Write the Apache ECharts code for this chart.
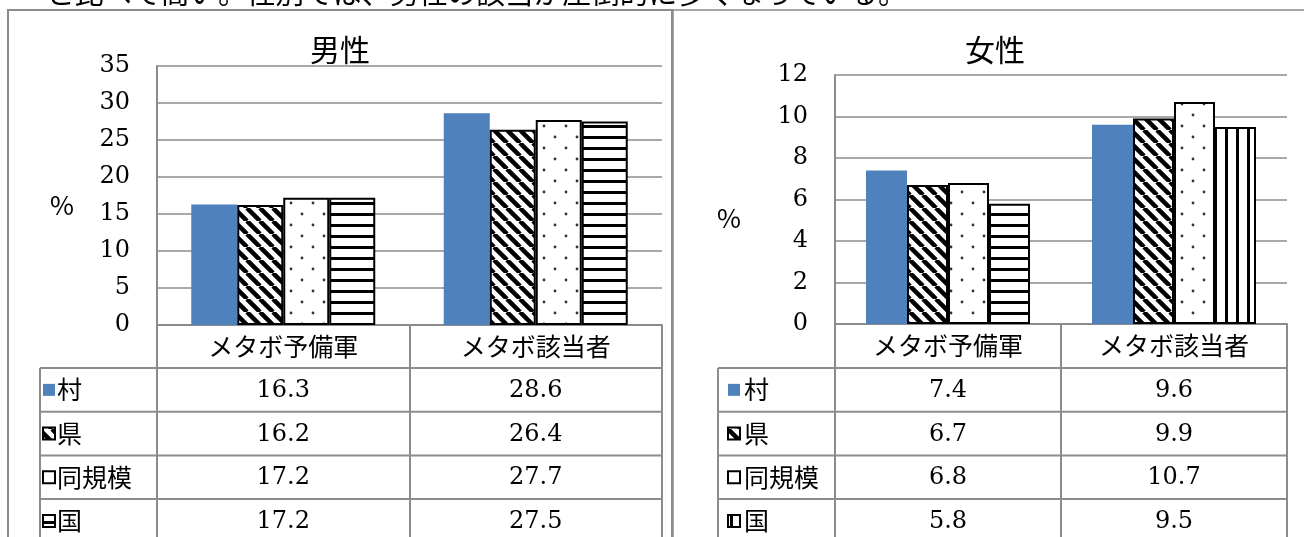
<!DOCTYPE html>
<html><head><meta charset="utf-8">
<script src="https://cdn.jsdelivr.net/npm/echarts@6/dist/echarts.min.js"></script>
<style>html,body{margin:0;padding:0;background:#fff;}#c{width:1304px;height:537px;}</style>
</head><body><div id="c"></div>
<script>
// ---- data ----
const categories = ['メタボ予備軍', 'メタボ該当者'];
const seriesNames = ['村', '県', '同規模', '国'];
const maleVillage  = [16.3, 28.6];
const malePref     = [16.2, 26.4];
const maleSimilar  = [17.2, 27.7];
const maleNation   = [17.2, 27.5];
const femaleVillage = [7.4, 9.6];
const femalePref    = [6.7, 9.9];
const femaleSimilar = [6.8, 10.7];
const femaleNation  = [5.8, 9.5];
const maleAxis = { min: 0, max: 35, interval: 5 };
const femaleAxis = { min: 0, max: 12, interval: 2 };
const titles = ['男性', '女性'];
const topText = 'と比べて高い。性別では、男性の該当が圧倒的に多くなっている。';

// ---- patterns ----
function tile(w, h, draw) {
  const c = document.createElement('canvas'); c.width = w; c.height = h;
  const g = c.getContext('2d'); g.fillStyle = '#fff'; g.fillRect(0, 0, w, h);
  draw(g, w, h); return { image: c, repeat: 'repeat' };
}
const diagPat = tile(13, 13, (g, w) => {
  g.strokeStyle = '#000'; g.lineWidth = 4.5; g.beginPath();
  for (const k of [-1, 0, 1]) { g.moveTo(k * w, 0); g.lineTo(k * w + w, w); }
  g.stroke();
});
const dotPat = tile(22, 22, (g) => {
  g.fillStyle = '#333';
  g.beginPath(); g.arc(5, 5, 1.4, 0, Math.PI * 2); g.fill();
  g.beginPath(); g.arc(16, 16, 1.4, 0, Math.PI * 2); g.fill();
});
const hPat = tile(4, 11, (g) => { g.fillStyle = '#000'; g.fillRect(0, 4, 4, 3); });
const vPat = tile(11, 4, (g) => { g.fillStyle = '#000'; g.fillRect(4, 0, 3, 4); });
const BLUE = '#4F81BD';
const GRAY = '#8c8c8c';

const maleStyles = [
  { color: BLUE },
  { color: diagPat, borderColor: '#000', borderWidth: 2 },
  { color: dotPat, borderColor: '#000', borderWidth: 2 },
  { color: hPat, borderColor: '#000', borderWidth: 2 }
];
const femaleStyles = [
  { color: BLUE },
  { color: diagPat, borderColor: '#000', borderWidth: 2 },
  { color: dotPat, borderColor: '#000', borderWidth: 2 },
  { color: vPat, borderColor: '#000', borderWidth: 2 }
];
const maleData = [maleVillage, malePref, maleSimilar, maleNation];
const femaleData = [femaleVillage, femalePref, femaleSimilar,
  femaleNation.map((v, i) => i === 0 ? { value: v, itemStyle: { color: hPat } } : v)];
const femaleRaw = [femaleVillage, femalePref, femaleSimilar, femaleNation];

const JP = '"Noto Sans CJK JP"';
const NUM = '"DejaVu Serif"';

function xAxis(gi) {
  return {
    type: 'category', gridIndex: gi, data: categories,
    axisLine: { show: true, lineStyle: { color: GRAY, width: 2 } },
    axisTick: { show: true, length: 240, lineStyle: { color: GRAY, width: 2 } },
    axisLabel: { margin: 0, lineHeight: 43, fontSize: 25, fontFamily: JP, color: '#000' }
  };
}
function yAxis(gi, ax) {
  return {
    type: 'value', gridIndex: gi, min: ax.min, max: ax.max, interval: ax.interval,
    axisLine: { show: true, lineStyle: { color: GRAY, width: 2 } },
    axisTick: { show: false },
    splitLine: { lineStyle: { color: GRAY, width: 1.5 } },
    axisLabel: { margin: 27, fontSize: 24, fontFamily: NUM, color: '#000' }
  };
}

const series = [];
seriesNames.forEach((n, i) => series.push({
  type: 'bar', name: n, xAxisIndex: 0, yAxisIndex: 0, data: maleData[i],
  barWidth: 46, barGap: '0%', itemStyle: maleStyles[i], animation: false
}));
seriesNames.forEach((n, i) => series.push({
  type: 'bar', name: n, xAxisIndex: 1, yAxisIndex: 1, data: femaleData[i],
  barWidth: 41, barGap: '0%', itemStyle: femaleStyles[i], animation: false
}));

const chart = echarts.init(document.getElementById('c'));
chart.setOption({
  animation: false,
  title: [
    { text: titles[0], left: 310, top: 35, padding: 0, textStyle: { fontFamily: JP, fontSize: 30, fontWeight: 'normal', color: '#000' } },
    { text: titles[1], left: 965, top: 35, padding: 0, textStyle: { fontFamily: JP, fontSize: 30, fontWeight: 'normal', color: '#000' } }
  ],
  grid: [
    { left: 157, top: 66, width: 505, height: 259 },
    { left: 835, top: 75, width: 452, height: 249 }
  ],
  xAxis: [xAxis(0), xAxis(1)],
  yAxis: [yAxis(0, maleAxis), yAxis(1, femaleAxis)],
  series: series
});

// ---- table & decorations ----
const ROW0 = 368, PITCH = 43.7;
const g = [];
g.push({ type: 'text', x: 46, y: -7, style: { text: topText, fontFamily: JP, fontSize: 28.7, fill: '#000', align: 'left', verticalAlign: 'middle' } });
g.push({ type: 'rect', shape: { x: 8, y: 10, width: 664, height: 560 }, style: { fill: null, stroke: GRAY, lineWidth: 2 } });
g.push({ type: 'rect', shape: { x: 673, y: 10, width: 700, height: 560 }, style: { fill: null, stroke: GRAY, lineWidth: 1.5 } });
g.push({ type: 'text', x: 62, y: 205, style: { text: '%', fontFamily: JP, fontSize: 26, fill: '#000', align: 'center', verticalAlign: 'middle' } });
g.push({ type: 'text', x: 729, y: 218, style: { text: '%', fontFamily: JP, fontSize: 26, fill: '#000', align: 'center', verticalAlign: 'middle' } });

const panels = [
  { gi: 0, legL: 40, right: 662, iconX: 43, textX: 57, raw: maleData, styles: maleStyles },
  { gi: 1, legL: 718, right: 1287, iconX: 728, textX: 744, raw: femaleRaw, styles: femaleStyles }
];
panels.forEach(p => {
  for (let r = 0; r < 4; r++) {
    const y = ROW0 + r * PITCH;
    g.push({ type: 'line', shape: { x1: p.legL, y1: y, x2: p.right, y2: y }, style: { stroke: GRAY, lineWidth: 2 } });
  }
  g.push({ type: 'line', shape: { x1: p.legL, y1: ROW0, x2: p.legL, y2: 560 }, style: { stroke: GRAY, lineWidth: 2 } });
  seriesNames.forEach((n, s) => {
    const cy = ROW0 + (s + 0.5) * PITCH;
    const st = p.styles[s];
    g.push({ type: 'rect', shape: { x: p.iconX, y: cy - 6, width: 12, height: 12 },
      style: { fill: st.color, stroke: st.borderColor || null, lineWidth: st.borderWidth || 0 } });
    g.push({ type: 'text', x: p.textX, y: cy, style: { text: n, fontFamily: JP, fontSize: 25, fill: '#000', align: 'left', verticalAlign: 'middle' } });
    categories.forEach((c, ci) => {
      const px = chart.convertToPixel({ xAxisIndex: p.gi }, c);
      g.push({ type: 'text', x: px, y: cy + 1, style: { text: p.raw[s][ci].toFixed(1), fontFamily: NUM, fontSize: 24, fill: '#000', align: 'center', verticalAlign: 'middle' } });
    });
  });
});
chart.setOption({ graphic: g });
</script></body></html>
